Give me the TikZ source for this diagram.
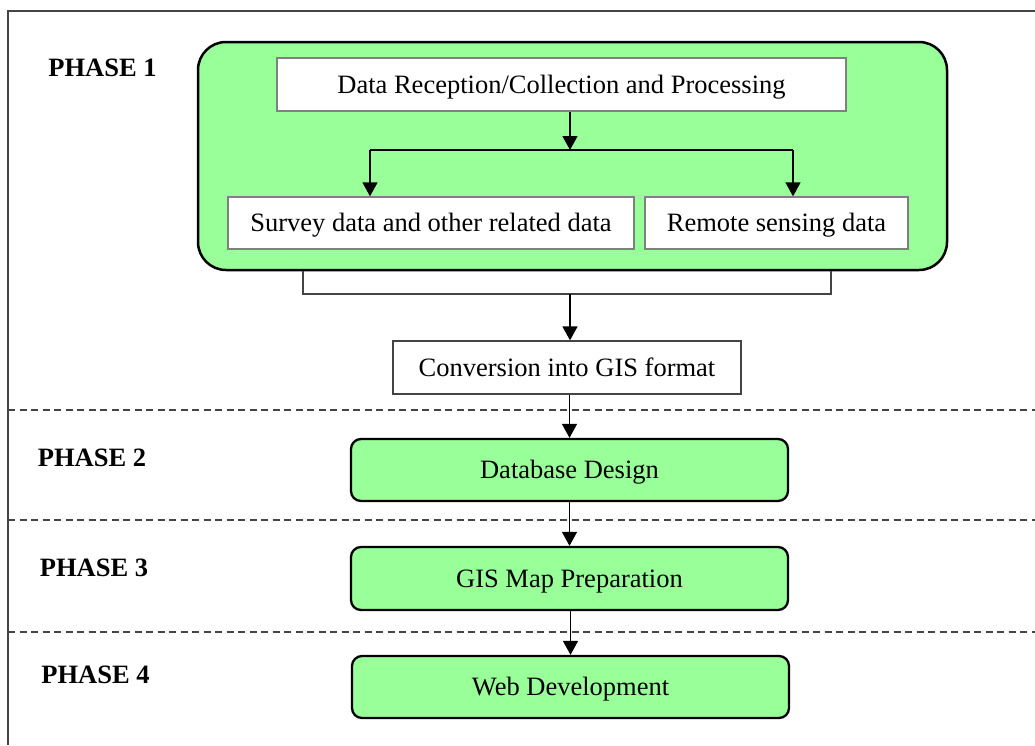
\documentclass[tikz,border=0pt]{standalone}
\usepackage{fontspec}
\setmainfont{Liberation Serif}
\usetikzlibrary{arrows.meta}
\definecolor{boxgreen}{HTML}{99FF99}
\definecolor{frame}{HTML}{444444}
\definecolor{lightframe}{HTML}{808080}
\tikzset{
  txt/.style={font=\fontsize{26.5}{30}\selectfont, text height=17.5pt, text depth=0pt},
  phaselbl/.style={font=\fontsize{26.5}{30}\selectfont\bfseries, inner sep=0pt, text height=17.5pt, text depth=0pt},
  whitebox/.style={draw=lightframe, line width=1.3pt, fill=white, inner sep=0pt, txt},
  convbox/.style={draw=frame, line width=1.3pt, fill=white, inner sep=0pt, txt},
  greenbox/.style={draw=black, line width=2.3pt, fill=boxgreen, rounded corners=10pt, inner sep=0pt, txt},
  bigbox/.style={draw=black, line width=2.5pt, fill=boxgreen, rounded corners=28pt, inner sep=0pt},
  conn/.style={draw=black, line width=1.4pt},
  arr/.style={conn, -{Triangle[width=15pt,length=14pt]}},
  brk/.style={draw=frame, line width=1.4pt},
  sep/.style={draw=frame, line width=1.2pt, dash pattern=on 7pt off 4.5pt},
}
\begin{document}
\begin{tikzpicture}[x=1pt,y=-1pt]
\useasboundingbox (0,0) rectangle (1035,745);
\fill[white] (0,0) rectangle (1035,745);
% outer frame (right and bottom edges lie outside the picture)
\coordinate (ftl) at (8,11);
\coordinate (ftr) at (1035,11);
\coordinate (fbl) at (8,745);
\draw[frame, line width=1.5pt] (ftr) -- (ftl) -- (fbl);

% dashed phase separators
\coordinate (s1l) at (8,410);  \coordinate (s1r) at (1035,410);
\coordinate (s2l) at (8,520);  \coordinate (s2r) at (1035,520);
\coordinate (s3l) at (8,632);  \coordinate (s3r) at (1035,632);
\draw[sep] (s1l) -- (s1r);
\draw[sep] (s2l) -- (s2r);
\draw[sep] (s3l) -- (s3r);

% phase labels
\node[phaselbl] (ph1) at (102.5,68) {PHASE 1};
\node[phaselbl] (ph2) at (92,458) {PHASE 2};
\node[phaselbl] (ph3) at (94,568) {PHASE 3};
\node[phaselbl] (ph4) at (95.5,675) {PHASE 4};

% phase 1 container
\node[bigbox, minimum width=749pt, minimum height=228pt] (p1) at (572.5,156) {};

\node[whitebox, minimum width=569pt, minimum height=53pt] (dr) at (561.5,84.5) {Data Reception/Collection and Processing};
\node[whitebox, minimum width=406pt, minimum height=52pt] (sv) at (431,223) {Survey data and other related data};
\node[whitebox, minimum width=263pt, minimum height=52pt] (rs) at (776.5,223) {Remote sensing data};

\coordinate (j) at (570,150);
\coordinate (jl) at (370,150);
\coordinate (jr) at (793,150);
\draw[arr] (j |- dr.south) -- (j);
\draw[conn] (jl) -- (jr);
\draw[arr] (jl) -- (jl |- sv.north);
\draw[arr] (jr) -- (jr |- rs.north);

% bracket joining the phase 1 outputs
\node[convbox, minimum width=348pt, minimum height=53pt] (cv) at (567,367.5) {Conversion into GIS format};
\coordinate (bl) at (303,294);
\coordinate (br) at (831,294);
\coordinate (bm) at (570,294);
\draw[brk] (bl |- p1.south) -- (bl) -- (br) -- (br |- p1.south);
\draw[arr] (bm) -- (bm |- cv.north);

% phases 2-4
\node[greenbox, minimum width=437pt, minimum height=62pt] (db) at (569.5,470) {Database Design};
\node[greenbox, minimum width=437pt, minimum height=63pt] (gm) at (569.5,578.5) {GIS Map Preparation};
\node[greenbox, minimum width=437pt, minimum height=62pt] (wd) at (570.5,687) {Web Development};

\draw[arr] (db.north |- cv.south) -- (db.north);
\draw[arr] (gm.north |- db.south) -- (gm.north);
\draw[arr] (wd.north |- gm.south) -- (wd.north);
\end{tikzpicture}
\end{document}
